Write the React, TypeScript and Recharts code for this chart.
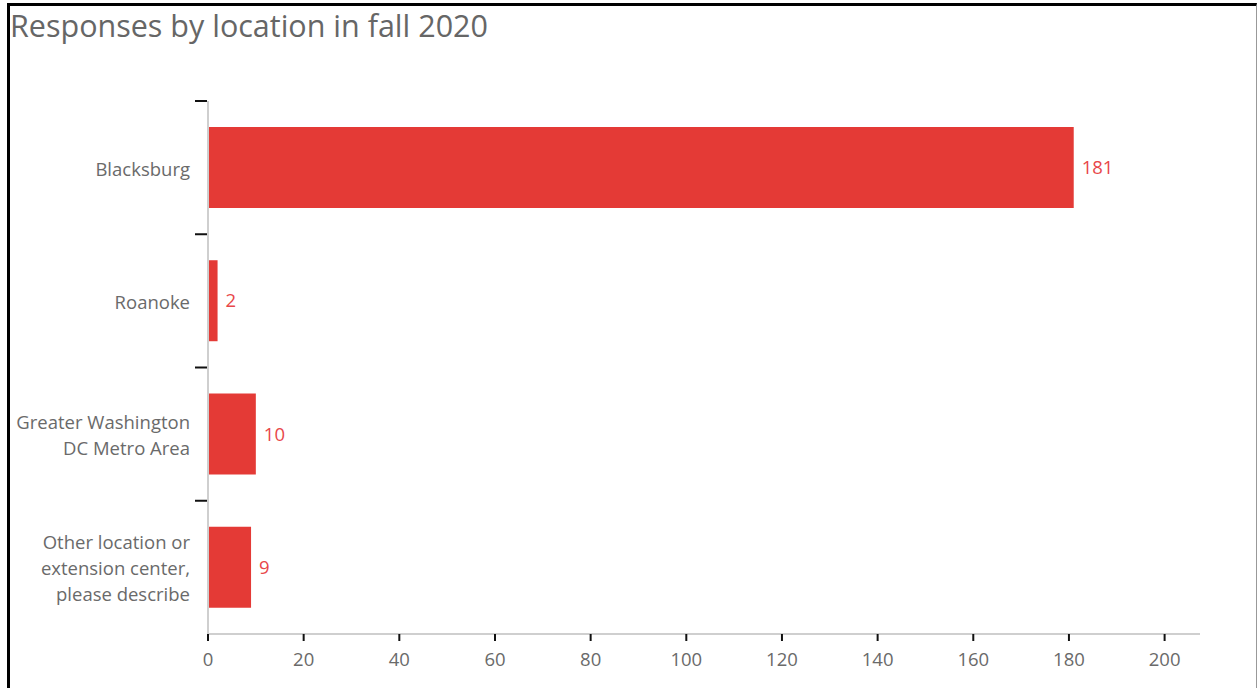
import React from "react";
import { BarChart, Bar, XAxis, YAxis, LabelList } from "recharts";

const categories = [
  "Blacksburg",
  "Roanoke",
  "Greater Washington\nDC Metro Area",
  "Other location or\nextension center,\nplease describe",
];
const responses = [181, 2, 10, 9];
const xTicks = [0, 20, 40, 60, 80, 100, 120, 140, 160, 180, 200];
const title = "Responses by location in fall 2020";

const data = categories.map((c, i) => ({ location: c, count: responses[i] }));

const W = 1258;
const H = 688;
const MARGIN = { top: 101, right: 58, bottom: 24, left: 0 };
const Y_AXIS_W = 208;
const X_AXIS_H = 30;
const PLOT_H = H - MARGIN.top - MARGIN.bottom - X_AXIS_H;
const AXIS_X = MARGIN.left + Y_AXIS_W;
const FONT = "'Open Sans', 'Liberation Sans', sans-serif";
const FS = 18.5;

const YTick = (props: any) => {
  const { x, y, payload } = props;
  const lines = String(payload.value).split("\n");
  const lh = 26;
  const band = PLOT_H / categories.length;
  const top = y - band / 2;
  const startY = y - ((lines.length - 1) * lh) / 2;
  return (
    <g>
      <line x1={AXIS_X - 13} x2={AXIS_X - 1} y1={top} y2={top} stroke="#111" strokeWidth={2} />
      <text
        x={x}
        y={startY}
        textAnchor="end"
        dominantBaseline="central"
        fill="#6a6a6a"
        fontSize={FS}
        fontFamily={FONT}
      >
        {lines.map((l, i) => (
          <tspan key={i} x={x} y={startY + i * lh}>
            {l}
          </tspan>
        ))}
      </text>
    </g>
  );
};

export default function App() {
  return (
    <div style={{ position: "fixed", left: 0, top: 0, width: W, height: H, background: "#fff", overflow: "hidden" }}>
      <div
        style={{
          position: "absolute",
          left: 10,
          top: 5,
          fontFamily: FONT,
          fontSize: 30.5,
          color: "#666",
          whiteSpace: "nowrap",
          lineHeight: "40px",
        }}
      >
        {title}
      </div>
      <div style={{ position: "absolute", left: 0, top: 0 }}>
        <BarChart width={W} height={H} data={data} layout="vertical" margin={MARGIN} barCategoryGap="19.5%">
          <XAxis
            type="number"
            domain={[0, 207.4]}
            ticks={xTicks}
            allowDataOverflow
            height={X_AXIS_H}
            axisLine={{ stroke: "#cfcfcf", strokeWidth: 2 }}
            tickLine={{ stroke: "#111", strokeWidth: 2 }}
            tickSize={7}
            tickMargin={12}
            tick={{ fill: "#6a6a6a", fontSize: FS, fontFamily: FONT }}
          />
          <YAxis
            type="category"
            dataKey="location"
            width={Y_AXIS_W}
            axisLine={{ stroke: "#cfcfcf", strokeWidth: 2 }}
            tickLine={false}
            tickMargin={18}
            tickSize={0}
            interval={0}
            tick={<YTick />}
          />
          <Bar dataKey="count" fill="#e43a36" isAnimationActive={false}>
            <LabelList
              dataKey="count"
              position="right"
              offset={8}
              fill="#e8474a"
              fontSize={FS}
              fontFamily={FONT}
            />
          </Bar>
        </BarChart>
      </div>
      <div
        style={{
          position: "absolute",
          left: 7,
          top: 3,
          width: 1246,
          height: 700,
          borderLeft: "3px solid #000",
          borderTop: "3px solid #000",
          borderRight: "1px solid #999",
          pointerEvents: "none",
        }}
      />
    </div>
  );
}
